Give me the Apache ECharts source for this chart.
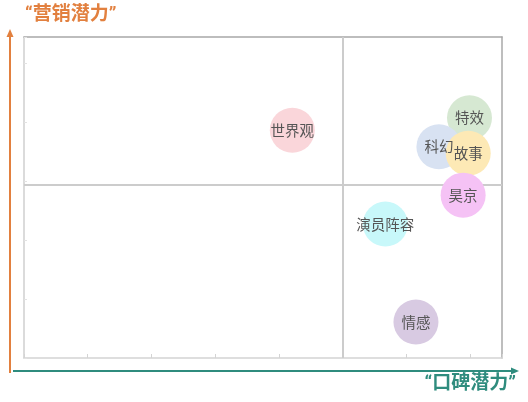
<!DOCTYPE html>
<html>
<head>
<meta charset="utf-8">
<script src="https://cdn.jsdelivr.net/npm/echarts@6/dist/echarts.min.js"></script>
<style>
html,body{margin:0;padding:0;background:#fff;}
#c{width:528px;height:402px;}
</style>
</head>
<body>
<div id="c"></div>
<script>
// Data
const names = ['世界观', '特效', '科幻', '故事', '昊京', '演员阵容', '情感'];
const xValues = [4.21, 6.99, 6.51, 6.97, 6.89, 5.67, 6.15];   // 口碑潜力
const yValues = [3.86, 4.07, 3.58, 3.47, 2.76, 2.27, 0.61];   // 营销潜力
const bubbleColors = ['#fad6da', '#d6e8d2', '#d8e2f2', '#fde9b5', '#f5c2f5', '#c8f8fa', '#d8cae2'];
const xRange = [0, 7.5];
const yRange = [0, 5.44];
const xCross = 5;
const yCross = 2.93;
const yTitle = '“营销潜力”';
const xTitle = '“口碑潜力”';

const chart = echarts.init(document.getElementById('c'));
const orange = '#e2803f';
const teal = '#2f8c7e';

const data = names.map((n, i) => ({
  name: n,
  value: [xValues[i], yValues[i]],
  itemStyle: { color: bubbleColors[i] }
}));

chart.setOption({
  animation: false,
  backgroundColor: '#fff',
  grid: { left: 24, right: 26, top: 37, bottom: 44 },
  xAxis: [{
    type: 'value', min: xRange[0], max: xRange[1], interval: 1,
    axisLine: { show: true, lineStyle: { color: '#d4d4d4', width: 1.5 } },
    axisTick: { show: true, inside: true, length: 4, lineStyle: { color: '#d4d4d4' } },
    axisLabel: { show: false },
    splitLine: { show: false }
  }, {
    type: 'value', position: 'top', min: xRange[0], max: xRange[1],
    axisLine: { show: true, onZero: false, lineStyle: { color: '#a8a8a8', width: 1.5 } },
    axisTick: { show: false }, axisLabel: { show: false }, splitLine: { show: false }
  }],
  yAxis: [{
    type: 'value', min: yRange[0], max: yRange[1], interval: 1,
    axisLine: { show: true, lineStyle: { color: '#cfcfcf', width: 1.5 } },
    axisTick: { show: true, inside: true, length: 3, lineStyle: { color: '#e2e2e2' } },
    axisLabel: { show: false },
    splitLine: { show: false }
  }, {
    type: 'value', position: 'right', min: yRange[0], max: yRange[1],
    axisLine: { show: true, onZero: false, lineStyle: { color: '#a8a8a8', width: 1.5 } },
    axisTick: { show: false }, axisLabel: { show: false }, splitLine: { show: false }
  }],
  series: [{
    type: 'scatter',
    symbolSize: 45,
    data: data,
    itemStyle: { opacity: 1 },
    label: {
      show: true, position: 'inside', formatter: '{b}',
      color: '#555', fontSize: 14.5,
      fontFamily: 'Noto Sans CJK SC'
    },
    markLine: {
      silent: true, symbol: 'none', z: 1,
      label: { show: false },
      lineStyle: { color: '#cccccc', width: 2, type: 'solid' },
      data: [{ xAxis: xCross }, { yAxis: yCross }]
    },
    z: 3
  }],
  graphic: [
    { type: 'line', shape: { x1: 10, y1: 373, x2: 10, y2: 36 }, style: { stroke: orange, lineWidth: 2 } },
    { type: 'polygon', shape: { points: [[10, 29], [6.5, 37], [13.5, 37]] }, style: { fill: orange } },
    { type: 'line', shape: { x1: 13, y1: 371, x2: 512, y2: 371 }, style: { stroke: teal, lineWidth: 2 } },
    { type: 'polygon', shape: { points: [[519, 371], [511, 367.5], [511, 374.5]] }, style: { fill: teal } },
    { type: 'text', left: 25, top: 6, style: { text: yTitle, fill: orange, font: 'bold 19px Roboto, "Noto Sans CJK SC"' } },
    { type: 'text', right: 12, top: 375, style: { text: xTitle, fill: teal, font: 'bold 19px Roboto, "Noto Sans CJK SC"' } }
  ]
});
</script>
</body>
</html>
